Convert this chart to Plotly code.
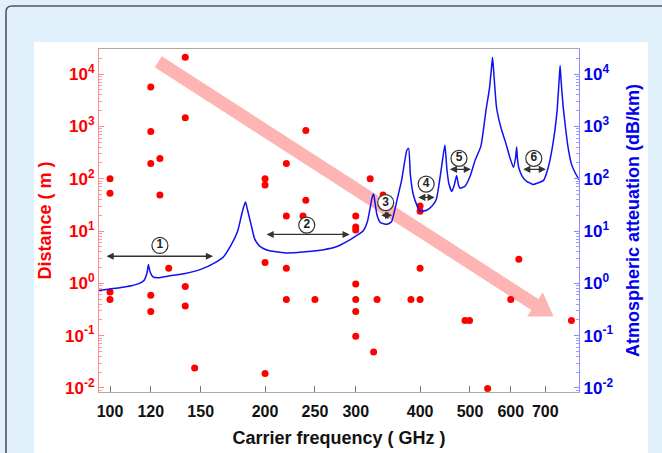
import numpy as np
import plotly.graph_objects as go

# ---------------- data ----------------
# Measured link distances (red dots): carrier frequency (GHz) and distance (m)
dist_freq = [100, 100, 100, 100,
             120, 120, 120, 120, 120,
             125, 125, 130,
             140, 140, 140, 140, 146,
             200, 200, 200, 200,
             220, 220, 220, 220, 237, 240, 240, 250,
             300, 300, 300, 300, 300, 300, 300,
             320, 325, 330, 339,
             384, 400, 400, 400, 400,
             489, 499, 541, 600, 622, 787]
dist_m = [100, 53, 0.68, 0.49,
          5700, 800, 195, 0.59, 0.29,
          245, 49, 1.95,
          21000, 1470, 0.87, 0.37, 0.024,
          100, 76, 2.5, 0.019,
          195, 19.5, 1.95, 0.49, 19.5, 840, 39, 0.49,
          19.5, 12, 10.5, 0.97, 0.49, 0.29, 0.098,
          100, 0.049, 0.49, 49,
          0.49, 30, 24, 1.95, 0.49,
          0.195, 0.195, 0.0098, 0.49, 2.9, 0.195]

# Atmospheric attenuation curve (blue): frequency (GHz) and attenuation (dB/km)
att_freq = [95.2, 100, 105, 110, 114, 116.5, 118, 118.75, 119.5, 121, 124, 130, 140, 150,
            160, 166, 172, 177, 180, 182, 183.3, 185, 188, 191, 195, 201, 210, 220, 240,
            260, 275, 290, 300, 310, 316, 320, 323, 325, 327, 330, 335, 345, 352, 356,
            362, 368, 373, 377, 380, 383, 388, 395, 400, 412, 422, 430, 437, 442, 447,
            451, 455, 461, 466, 471, 475, 478, 489, 500, 512, 525, 538, 545, 550, 553,
            556, 563, 575, 585, 598, 607, 613, 616, 618, 622, 632, 644, 655, 663, 675,
            694, 710, 726, 738, 745, 748, 751, 758, 765, 775, 787, 800, 814]
att_db = [0.73, 0.78, 0.83, 0.9, 1.0, 1.15, 1.6, 2.3, 1.7, 1.35, 1.28, 1.38, 1.55, 1.85,
          2.5, 3.2, 5.5, 10, 20, 30, 36, 25, 13, 7, 5.2, 4.4, 4.0, 3.8, 4.0,
          4.4, 5.0, 6.5, 8, 10, 15, 28, 45, 51, 35, 20, 14.5, 13.5, 15, 22,
          45, 90, 200, 350, 380, 120, 50, 30, 24, 25, 30, 40, 100, 220, 440,
          150, 80, 57, 75, 115, 75, 66, 72, 110, 230, 420, 2300, 5000, 12000, 21000,
          11000, 2300, 900, 530, 250, 165, 250, 405, 250, 160, 110, 89, 82, 78, 82,
          92, 170, 530, 2000, 8000, 14600, 8000, 2500, 1100, 400, 190, 130, 96]

# Transparency windows (double arrows with circled numbers)
win_labels = ["1", "2", "3", "4", "5", "6"]
win_f0 = [97.8, 200, 334, 394, 454, 630]
win_f1 = [158.5, 292, 353, 427, 502, 702]
win_val = [3.3, 8.6, 20, 44, 151, 151]
lab_f = [125, 241, 343, 411, 476, 665]
lab_val = [5.3, 13, 35, 79, 245, 245]

x_ticks = [100, 120, 150, 200, 250, 300, 400, 500, 600, 700]
y_tick_exps = [-2, -1, 0, 1, 2, 3, 4]
x_range = [95.2, 814]
y_range = [0.00838, 30200]

# ---------------- figure ----------------
W, H = 662, 453
ML, MR, MT, MB = 99, 83, 49, 61
PW, PH = W - ML - MR, H - MT - MB


def px(xp):
    return (xp - ML) / PW


def py(yp):
    return (H - MB - yp) / PH


FONT = "Liberation Sans, Arial, sans-serif"

y_tickvals = [10.0 ** e for e in y_tick_exps]
y_ticktext = [f"10<sup>{e}</sup>" for e in y_tick_exps]
y_minor = [m * 10.0 ** e for e in range(-3, 5) for m in range(2, 10)]

fig = go.Figure()

fig.add_trace(go.Scatter(
    x=att_freq, y=att_db, mode="lines", yaxis="y2",
    line=dict(color="#1010f0", width=1.5, shape="spline", smoothing=0.5),
    showlegend=False, hoverinfo="skip"))

fig.add_trace(go.Scatter(
    x=dist_freq, y=dist_m, mode="markers", yaxis="y",
    marker=dict(color="#ff0000", size=7), showlegend=False))

fig.add_trace(go.Scatter(
    x=lab_f, y=lab_val, mode="markers+text", yaxis="y2", text=win_labels,
    textposition="middle center",
    textfont=dict(family=FONT, size=12, color="#222", weight="bold"),
    marker=dict(size=16, color="white", line=dict(color="#333", width=1.2)),
    showlegend=False, hoverinfo="skip"))

annotations = []
for f0, f1, v in zip(win_f0, win_f1, win_val):
    annotations.append(dict(
        x=np.log10(f1), y=np.log10(v), ax=np.log10(f0), ay=np.log10(v),
        xref="x", yref="y2", axref="x", ayref="y2", text="", showarrow=True,
        arrowhead=2, startarrowhead=2, arrowside="end+start", arrowsize=1.1,
        startarrowsize=1.1, arrowwidth=1.3, arrowcolor="#333", standoff=0, startstandoff=0))

shapes = []
r = 6
shapes.append(dict(type="rect", xref="paper", yref="paper",
                   x0=px(34), x1=px(648), y0=py(460), y1=py(42),
                   fillcolor="white", line=dict(width=0), layer="below"))
shapes.append(dict(type="path", xref="paper", yref="paper",
                   path=(f"M {px(6)} {py(470)} L {px(6)} {py(6 + r)} "
                         f"Q {px(6)} {py(6)} {px(6 + r)} {py(6)} L {px(670)} {py(6)}"),
                   line=dict(color="#555555", width=1.6), layer="below"))

# big pink trend arrow
shapes.append(dict(type="line", xref="paper", yref="paper",
                   x0=px(158.3), y0=py(61.7), x1=px(536), y1=py(305.2),
                   line=dict(color="#ffb4b4", width=13), layer="below"))
shapes.append(dict(type="path", xref="paper", yref="paper",
                   path=(f"M {px(553.5)} {py(316.5)} L {px(527.2)} {py(316.5)} "
                         f"L {px(542.8)} {py(292.3)} Z"),
                   fillcolor="#ffb4b4", line=dict(width=0), layer="below"))

fig.update_layout(
    width=W, height=H,
    margin=dict(l=ML, r=MR, t=MT, b=MB, autoexpand=False),
    paper_bgcolor="#e0f1fb", plot_bgcolor="rgba(0,0,0,0)",
    font=dict(family=FONT, size=16, weight="bold"),
    shapes=shapes, annotations=annotations,
    xaxis=dict(
        type="log", range=[np.log10(x_range[0]), np.log10(x_range[1])],
        automargin=False,
        tickmode="array", tickvals=x_ticks, ticktext=[str(t) for t in x_ticks],
        ticks="inside", ticklen=6, tickcolor="#777", showgrid=False, zeroline=False,
        showline=True, linecolor="#aaaaaa", linewidth=1.2, mirror=True,
        ticklabelstandoff=5,
        tickfont=dict(family=FONT, size=16, color="#111", weight="bold"),
        title=dict(text="Carrier frequency ( GHz )", standoff=12,
                   font=dict(family=FONT, size=18, color="#111", weight="bold"))),
    yaxis=dict(
        type="log", range=[np.log10(y_range[0]), np.log10(y_range[1])],
        automargin=False,
        tickmode="array", tickvals=y_tickvals, ticktext=y_ticktext,
        ticks="inside", ticklen=5, tickcolor="#ff8c8c",
        minor=dict(tickmode="array", tickvals=y_minor, ticks="inside", ticklen=3,
                   tickcolor="#ff9c9c"),
        showgrid=False, zeroline=False, showline=True, linecolor="#ff8c8c", linewidth=1.2,
        tickfont=dict(family=FONT, size=17, color="#ff0000", weight="bold"),
        title=dict(text="Distance ( m )", standoff=8,
                   font=dict(family=FONT, size=18, color="#ff0000", weight="bold"))),
    yaxis2=dict(
        type="log", range=[np.log10(y_range[0]), np.log10(y_range[1])],
        overlaying="y", side="right", automargin=False,
        tickmode="array", tickvals=y_tickvals, ticktext=y_ticktext,
        ticks="inside", ticklen=5, tickcolor="#8c8cff",
        minor=dict(tickmode="array", tickvals=y_minor, ticks="inside", ticklen=3,
                   tickcolor="#9c9cff"),
        showgrid=False, zeroline=False, showline=True, linecolor="#8c8cff", linewidth=1.2,
        tickfont=dict(family=FONT, size=17, color="#0000ee", weight="bold"),
        title=dict(text="Atmospheric atteuation (dB/km)", standoff=14,
                   font=dict(family=FONT, size=18, color="#0000ee", weight="bold"))),
)

fig.write_html(
    "out.html",
    config={"displayModeBar": False},
    post_script="document.body.style.margin='0';document.body.style.overflow='hidden';")
